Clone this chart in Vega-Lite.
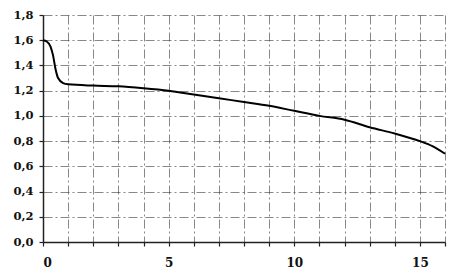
{
  "$schema": "https://vega.github.io/schema/vega-lite/v6.json",
  "width": 402,
  "height": 227,
  "autosize": {"type": "none"},
  "padding": {"left": 43, "top": 15, "right": 10, "bottom": 31},
  "background": "white",
  "config": {
    "view": {"stroke": null},
    "axis": {
      "labelFont": "DejaVu Serif",
      "labelFontWeight": "bold",
      "labelFontSize": 11.5,
      "labelColor": "#111",
      "domainColor": "#222",
      "domainWidth": 1.5,
      "tickColor": "#222",
      "tickWidth": 1.2,
      "gridColor": "#444",
      "gridWidth": 0.8,
      "gridDash": [9, 3, 2, 3],
      "gridOpacity": 0.8
    }
  },
  "data": {
    "values": [
      {"x": 0, "y": 1.6},
      {"x": 0.15, "y": 1.59},
      {"x": 0.3, "y": 1.55},
      {"x": 0.4, "y": 1.48},
      {"x": 0.5, "y": 1.37},
      {"x": 0.6, "y": 1.3},
      {"x": 0.8, "y": 1.26},
      {"x": 1, "y": 1.25},
      {"x": 2, "y": 1.24},
      {"x": 3, "y": 1.235},
      {"x": 4, "y": 1.22},
      {"x": 5, "y": 1.2},
      {"x": 6, "y": 1.17},
      {"x": 7, "y": 1.14},
      {"x": 8, "y": 1.11},
      {"x": 9, "y": 1.08},
      {"x": 10, "y": 1.04},
      {"x": 11, "y": 1.0},
      {"x": 12, "y": 0.97},
      {"x": 13, "y": 0.91},
      {"x": 14, "y": 0.86},
      {"x": 15, "y": 0.8},
      {"x": 15.5, "y": 0.76},
      {"x": 16, "y": 0.7}
    ]
  },
  "mark": {"type": "line", "color": "#000", "strokeWidth": 2, "interpolate": "monotone"},
  "encoding": {
    "x": {
      "field": "x",
      "type": "quantitative",
      "scale": {"domain": [0, 16], "nice": false},
      "axis": {
        "title": null,
        "values": [0,1,2,3,4,5,6,7,8,9,10,11,12,13,14,15,16],
        "labelExpr": "datum.value % 5 == 0 ? datum.label : ''",
        "tickSize": 4,
        "labelPadding": 11,
        "labelFontSize": 12
      }
    },
    "y": {
      "field": "y",
      "type": "quantitative",
      "scale": {"domain": [0, 1.8], "nice": false},
      "axis": {
        "title": null,
        "values": [0, 0.2, 0.4, 0.6, 0.8, 1.0, 1.2, 1.4, 1.6, 1.8],
        "labelExpr": "replace(format(datum.value, '.1f'), '.', ',')",
        "tickSize": 4,
        "labelPadding": 6
      }
    }
  }
}
